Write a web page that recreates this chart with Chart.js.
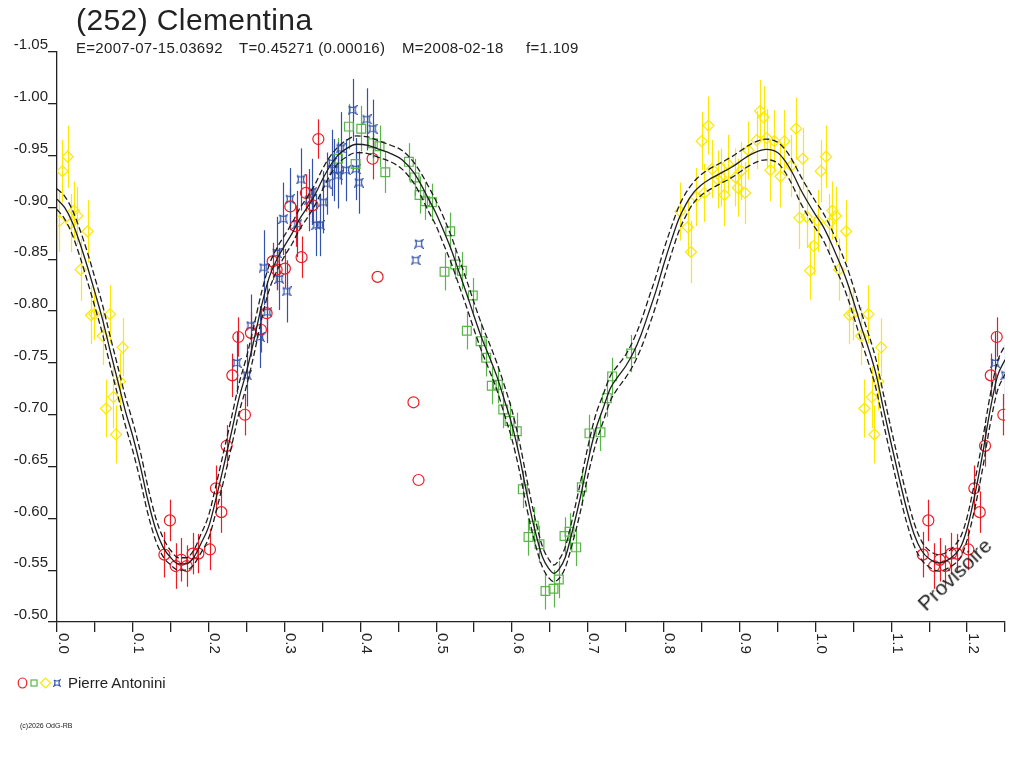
<!DOCTYPE html>
<html>
<head>
<meta charset="utf-8">
<title>(252) Clementina</title>
<script src="https://cdn.jsdelivr.net/npm/chart.js@4.4.1/dist/chart.umd.min.js"></script>
<style>
  body { margin: 0; background: #fff; }
  #wrap { position: relative; width: 1024px; height: 768px; overflow: hidden; }
  #c { position: absolute; left: 0; top: 0; }
  .t { position: absolute; font-family: "Liberation Sans", Arial, sans-serif; color: #222; white-space: pre; }
</style>
</head>
<body>
<div id="wrap">
  <canvas id="c" width="1024" height="768"></canvas>
  <div class="t" style="left:76px;top:5px;font-size:30px;line-height:30px;letter-spacing:0.4px">(252) Clementina</div>
  <div class="t" style="left:76px;top:40px;font-size:15px;line-height:15px;letter-spacing:0.3px">E=2007-07-15.03692</div>
  <div class="t" style="left:239px;top:40px;font-size:15px;line-height:15px;letter-spacing:0.3px">T=0.45271 (0.00016)</div>
  <div class="t" style="left:402px;top:40px;font-size:15px;line-height:15px;letter-spacing:0.3px">M=2008-02-18</div>
  <div class="t" style="left:526px;top:40px;font-size:15px;line-height:15px;letter-spacing:0.3px">f=1.109</div>
  <div class="t" style="left:68px;top:675px;font-size:15px;line-height:15px">Pierre Antonini</div>
  <div class="t" style="left:20px;top:722px;font-size:7px;line-height:7px">(c)2026 OdG-RB</div>
  <div class="t" style="left:926px;top:594px;font-size:21px;line-height:21px;transform-origin:0 18px;transform:rotate(-44deg)">Provisoire</div>
</div>
<script>
// curve fit (middle) and its two envelopes
const curvePhase = [0.000, 0.010, 0.020, 0.030, 0.040, 0.050, 0.060, 0.070, 0.080, 0.090,
  0.100, 0.110, 0.120, 0.130, 0.140, 0.150, 0.160, 0.170, 0.180, 0.190,
  0.200, 0.210, 0.220, 0.230, 0.240, 0.250, 0.260, 0.270, 0.280, 0.290,
  0.300, 0.310, 0.320, 0.330, 0.340, 0.350, 0.360, 0.370, 0.380, 0.395,
  0.410, 0.425, 0.440, 0.455, 0.470, 0.480, 0.490, 0.500, 0.510, 0.520,
  0.530, 0.540, 0.550, 0.560, 0.570, 0.580, 0.590, 0.600, 0.610, 0.620,
  0.630, 0.640, 0.648, 0.655, 0.662, 0.670, 0.680, 0.690, 0.700, 0.710,
  0.720, 0.730, 0.740, 0.750, 0.760, 0.770, 0.780, 0.790, 0.800, 0.810,
  0.820, 0.830, 0.840, 0.850, 0.860, 0.870, 0.880, 0.890, 0.900, 0.910,
  0.920, 0.935, 0.950, 0.960, 0.970, 0.980, 0.990, 1.000, 1.010, 1.020,
  1.030, 1.040, 1.050, 1.060, 1.070, 1.080, 1.090, 1.100, 1.110, 1.120,
  1.130, 1.140, 1.150, 1.163, 1.175, 1.185, 1.192, 1.200, 1.210, 1.220,
  1.230, 1.240, 1.250];
const curveMid = [-0.908, -0.900, -0.886, -0.866, -0.843, -0.818, -0.792, -0.762, -0.733, -0.704,
  -0.679, -0.650, -0.617, -0.590, -0.572, -0.562, -0.556, -0.556, -0.562, -0.576,
  -0.592, -0.620, -0.651, -0.683, -0.716, -0.742, -0.773, -0.806, -0.833, -0.850,
  -0.863, -0.875, -0.889, -0.900, -0.912, -0.927, -0.940, -0.950, -0.956, -0.961,
  -0.960, -0.956, -0.952, -0.946, -0.934, -0.922, -0.908, -0.894, -0.877, -0.859,
  -0.838, -0.817, -0.795, -0.774, -0.756, -0.737, -0.714, -0.690, -0.659, -0.622,
  -0.589, -0.563, -0.552, -0.547, -0.551, -0.562, -0.589, -0.620, -0.655, -0.685,
  -0.706, -0.726, -0.737, -0.747, -0.760, -0.777, -0.798, -0.820, -0.845, -0.868,
  -0.889, -0.904, -0.915, -0.922, -0.927, -0.931, -0.935, -0.939, -0.944, -0.949,
  -0.953, -0.956, -0.953, -0.945, -0.933, -0.918, -0.905, -0.893, -0.882, -0.867,
  -0.850, -0.832, -0.810, -0.786, -0.764, -0.739, -0.705, -0.672, -0.640, -0.610,
  -0.585, -0.569, -0.561, -0.557, -0.560, -0.566, -0.573, -0.590, -0.622, -0.660,
  -0.703, -0.737, -0.753];
const curveHigh = [-0.918, -0.911, -0.898, -0.879, -0.857, -0.832, -0.806, -0.776, -0.747, -0.718,
  -0.693, -0.664, -0.630, -0.601, -0.581, -0.569, -0.562, -0.562, -0.569, -0.585,
  -0.603, -0.633, -0.665, -0.697, -0.730, -0.756, -0.787, -0.819, -0.845, -0.861,
  -0.873, -0.885, -0.899, -0.910, -0.922, -0.937, -0.949, -0.958, -0.964, -0.969,
  -0.968, -0.964, -0.960, -0.955, -0.944, -0.933, -0.920, -0.906, -0.890, -0.872,
  -0.851, -0.830, -0.808, -0.787, -0.769, -0.750, -0.728, -0.704, -0.673, -0.636,
  -0.601, -0.573, -0.561, -0.555, -0.560, -0.572, -0.601, -0.634, -0.669, -0.699,
  -0.719, -0.738, -0.748, -0.758, -0.772, -0.790, -0.812, -0.834, -0.859, -0.881,
  -0.901, -0.915, -0.925, -0.932, -0.937, -0.941, -0.945, -0.949, -0.954, -0.959,
  -0.963, -0.966, -0.963, -0.956, -0.945, -0.931, -0.918, -0.906, -0.895, -0.881,
  -0.864, -0.846, -0.824, -0.800, -0.778, -0.753, -0.719, -0.686, -0.654, -0.623,
  -0.596, -0.578, -0.569, -0.565, -0.568, -0.575, -0.583, -0.601, -0.635, -0.674,
  -0.717, -0.751, -0.767];
const curveLow = [-0.898, -0.889, -0.874, -0.853, -0.829, -0.804, -0.778, -0.748, -0.719, -0.690,
  -0.665, -0.636, -0.604, -0.579, -0.563, -0.555, -0.550, -0.550, -0.555, -0.567,
  -0.581, -0.607, -0.637, -0.669, -0.702, -0.728, -0.759, -0.793, -0.821, -0.839,
  -0.853, -0.865, -0.879, -0.890, -0.902, -0.917, -0.931, -0.942, -0.948, -0.953,
  -0.952, -0.948, -0.944, -0.937, -0.924, -0.911, -0.896, -0.882, -0.864, -0.846,
  -0.825, -0.804, -0.782, -0.761, -0.743, -0.724, -0.700, -0.676, -0.645, -0.608,
  -0.577, -0.553, -0.543, -0.539, -0.542, -0.552, -0.577, -0.606, -0.641, -0.671,
  -0.693, -0.714, -0.726, -0.736, -0.748, -0.764, -0.784, -0.806, -0.831, -0.855,
  -0.877, -0.893, -0.905, -0.912, -0.917, -0.921, -0.925, -0.929, -0.934, -0.939,
  -0.943, -0.946, -0.943, -0.934, -0.921, -0.905, -0.892, -0.880, -0.869, -0.853,
  -0.836, -0.818, -0.796, -0.772, -0.750, -0.725, -0.691, -0.658, -0.626, -0.597,
  -0.574, -0.560, -0.553, -0.549, -0.552, -0.557, -0.563, -0.579, -0.609, -0.646,
  -0.689, -0.723, -0.739];

// observations: phase, magnitude, error (0 = no bar drawn)
const redPhase = [0.1416, 0.1489, 0.1565, 0.1640, 0.1710, 0.1789, 0.1864, 0.2017, 0.2096, 0.2167,
  0.2237, 0.2312, 0.2391, 0.2478, 0.2557, 0.2689, 0.2764, 0.2843, 0.2896, 0.3005,
  0.3076, 0.3146, 0.3225, 0.3282, 0.3370, 0.3446, 0.4161, 0.4227, 0.4700, 0.4767];
const redMag = [-0.565, -0.598, -0.554, -0.560, -0.554, -0.566, -0.566, -0.570, -0.629, -0.606,
  -0.670, -0.738, -0.775, -0.700, -0.779, -0.782, -0.798, -0.848, -0.840, -0.841,
  -0.901, -0.882, -0.852, -0.914, -0.902, -0.966, -0.947, -0.833, -0.712, -0.637];
const redErr = [0.022, 0.020, 0.022, 0.021, 0.020, 0.020, 0.019, 0.020, 0.022, 0.020,
  0.020, 0.021, 0.019, 0.020, 0.020, 0.022, 0.020, 0.018, 0.020, 0.019,
  0.018, 0.020, 0.020, 0.018, 0.018, 0.019, 0.020, 0, 0, 0];

const greenPhase = [0.3704, 0.3849, 0.3937, 0.4012, 0.4165, 0.4253, 0.4329, 0.4640, 0.4715, 0.4780,
  0.4856, 0.4943, 0.5110, 0.5185, 0.5251, 0.5338, 0.5404, 0.5483, 0.5585, 0.5660,
  0.5733, 0.5813, 0.5884, 0.5967, 0.6063, 0.6142, 0.6217, 0.6287, 0.6362, 0.6441,
  0.6547, 0.6617, 0.6692, 0.6758, 0.6846, 0.6920, 0.7021, 0.7166, 0.7250, 0.7320,
  0.7570];
const greenMag = [-0.947, -0.978, -0.942, -0.976, -0.962, -0.959, -0.934, -0.944, -0.929, -0.912,
  -0.906, -0.905, -0.838, -0.877, -0.845, -0.839, -0.781, -0.815, -0.771, -0.755,
  -0.728, -0.729, -0.705, -0.694, -0.684, -0.628, -0.582, -0.593, -0.575, -0.530,
  -0.532, -0.541, -0.583, -0.587, -0.572, -0.630, -0.682, -0.683, -0.716, -0.737,
  -0.759];
const greenErr = [0.020, 0.022, 0.022, 0.022, 0.020, 0.020, 0.020, 0.018, 0.018, 0.018,
  0.018, 0.018, 0.018, 0.018, 0.014, 0.018, 0.018, 0.017, 0.018, 0.018,
  0.018, 0.018, 0.018, 0.018, 0.018, 0.018, 0.018, 0.018, 0.018, 0.018,
  0.018, 0.018, 0.018, 0.018, 0.018, 0.018, 0.018, 0.018, 0.018, 0.018,
  0.018];

const yellowPhase = [0.0032, 0.0071, 0.0141, 0.0185, 0.0224, 0.0269, 0.0312, 0.0405, 0.0448, 0.0493,
  0.0602, 0.0646, 0.0699, 0.0743, 0.0778, 0.0830, 0.0866,
  0.8220, 0.8317, 0.8360, 0.8428, 0.8500, 0.8537, 0.8590, 0.8638, 0.8712, 0.8757,
  0.8800, 0.8844, 0.8946, 0.8976, 0.9020, 0.9073, 0.9117, 0.9226, 0.9271, 0.9319,
  0.9358, 0.9407, 0.9460, 0.9539, 0.9591, 0.9680, 0.9746, 0.9790, 0.9833, 0.9885,
  0.9930, 0.9978];
const yellowMag = [-0.887, -0.935, -0.949, -0.885, -0.897, -0.892, -0.840, -0.877, -0.796, -0.797,
  -0.776, -0.706, -0.797, -0.717, -0.681, -0.732, -0.765,
  -0.896, -0.881, -0.857, -0.910, -0.964, -0.914, -0.979, -0.937, -0.927, -0.929,
  -0.912, -0.942, -0.929, -0.919, -0.935, -0.914, -0.955, -0.965, -0.993, -0.987,
  -0.967, -0.936, -0.964, -0.930, -0.964, -0.940, -0.976, -0.890, -0.947, -0.891,
  -0.839, -0.863];
const yellowErr = [0.030, 0.030, 0.030, 0.028, 0.028, 0.028, 0.030, 0.030, 0.028, 0.025,
  0.028, 0.028, 0.028, 0.030, 0.028, 0.028, 0.028,
  0.028, 0.028, 0.030, 0.028, 0.028, 0.028, 0.028, 0.028, 0.028, 0.028,
  0.030, 0.028, 0.028, 0.028, 0.028, 0.030, 0.028, 0.028, 0.030, 0.030,
  0.028, 0.030, 0.030, 0.030, 0.030, 0.030, 0.030, 0.030, 0.030, 0.030,
  0.028, 0.028];

const bluePhase = [0.2369, 0.2504, 0.2553, 0.2676, 0.2724, 0.2773, 0.2896, 0.2931, 0.2984, 0.3028,
  0.3070, 0.3169, 0.3216, 0.3320, 0.3366, 0.3420, 0.3467, 0.3510, 0.3555, 0.3625,
  0.3650, 0.3700, 0.3739, 0.3810, 0.3897, 0.3940, 0.3980, 0.4082, 0.4161, 0.4728,
  0.4771];
const blueMag = [-0.750, -0.738, -0.786, -0.775, -0.842, -0.799, -0.856, -0.831, -0.889, -0.819,
  -0.908, -0.884, -0.927, -0.907, -0.915, -0.883, -0.883, -0.905, -0.923, -0.943,
  -0.936, -0.931, -0.957, -0.936, -0.994, -0.937, -0.924, -0.985, -0.976, -0.849,
  -0.865];
const blueErr = [0.030, 0.030, 0.030, 0.030, 0.036, 0.030, 0.035, 0.030, 0.035, 0.030,
  0.030, 0.032, 0.030, 0.030, 0.032, 0.030, 0.030, 0.030, 0.030, 0.032,
  0.030, 0.032, 0.035, 0.030, 0.030, 0.030, 0.030, 0.030, 0.028, 0,
  0];

const xTickValues = [0, 0.1, 0.2, 0.3, 0.4, 0.5, 0.6, 0.7, 0.8, 0.9, 1.0, 1.1, 1.2];
const xTickLabels = ['0.0', '0.1', '0.2', '0.3', '0.4', '0.5', '0.6', '0.7', '0.8', '0.9', '1.0', '1.1', '1.2'];

const RED = '#ec1c24', GREEN = '#58b548', YELLOW = '#fbe806', BLUE = '#3352a8', INK = '#1e1e1e';

// phases below 0.25 are shown again one cycle later, like the original plot
function obs(phase, mag, err) {
  const pts = [], errs = [];
  phase.forEach((p, i) => { pts.push({x: p, y: mag[i]}); errs.push(err[i]); });
  phase.forEach((p, i) => {
    if (p + 1 <= 1.251) { pts.push({x: p + 1, y: mag[i]}); errs.push(err[i]); }
  });
  return {pts, errs};
}
function line(ys) {
  return curvePhase.map((p, i) => ({x: p, y: ys[i]}));
}

function starImage(color, size) {
  const c = document.createElement('canvas');
  c.width = size; c.height = size;
  const g = c.getContext('2d');
  const a = 1, b = size - 1, m = size / 2;
  g.strokeStyle = color;
  g.lineWidth = 1.2;
  g.beginPath();
  g.moveTo(a, a);
  g.quadraticCurveTo(m, m - 1, b, a);
  g.quadraticCurveTo(m + 1, m, b, b);
  g.quadraticCurveTo(m, m + 1, a, b);
  g.quadraticCurveTo(m - 1, m, a, a);
  g.stroke();
  return c;
}
const blueStar = starImage(BLUE, 10);

const red = obs(redPhase, redMag, redErr);
const green = obs(greenPhase, greenMag, greenErr);
const yellow = obs(yellowPhase, yellowMag, yellowErr);
const blue = obs(bluePhase, blueMag, blueErr);

// vertical error bars, drawn under the markers
const errorBars = {
  id: 'errorBars',
  beforeDatasetsDraw(chart) {
    const {ctx, chartArea, scales: {x, y}} = chart;
    ctx.save();
    ctx.beginPath();
    ctx.rect(chartArea.left, chartArea.top, chartArea.width, chartArea.height);
    ctx.clip();
    chart.data.datasets.forEach(ds => {
      if (!ds.errors) return;
      ctx.strokeStyle = ds.barColor;
      ctx.lineWidth = 1.2;
      ds.data.forEach((p, i) => {
        const e = ds.errors[i];
        if (!e) return;
        const px = Math.round(x.getPixelForValue(p.x)) + 0.5;
        ctx.beginPath();
        ctx.moveTo(px, y.getPixelForValue(p.y - e));
        ctx.lineTo(px, y.getPixelForValue(p.y + e));
        ctx.stroke();
      });
    });
    ctx.restore();
  }
};

// x labels read top to bottom, and the legend symbols
const extras = {
  id: 'extras',
  afterDraw(chart) {
    const ctx = chart.ctx, xs = chart.scales.x;
    const y0 = chart.chartArea.bottom + 11;
    ctx.save();
    ctx.font = '15px "Liberation Sans", Arial, sans-serif';
    ctx.fillStyle = '#222';
    ctx.textAlign = 'left';
    ctx.textBaseline = 'alphabetic';
    xTickValues.forEach((v, i) => {
      ctx.save();
      ctx.translate(xs.getPixelForValue(v) + 1.5, y0);
      ctx.rotate(Math.PI / 2);
      ctx.fillText(xTickLabels[i], 0, 0);
      ctx.restore();
    });

    const ly = 683;
    ctx.lineWidth = 1.2;
    ctx.strokeStyle = RED;
    ctx.beginPath(); ctx.ellipse(22.5, ly, 4.3, 5, 0, 0, Math.PI * 2); ctx.stroke();
    ctx.strokeStyle = GREEN;
    ctx.strokeRect(31, ly - 3, 6, 6);
    ctx.strokeStyle = YELLOW;
    ctx.beginPath();
    ctx.moveTo(40.5, ly); ctx.lineTo(45.5, ly - 5); ctx.lineTo(50.5, ly); ctx.lineTo(45.5, ly + 5);
    ctx.closePath(); ctx.stroke();
    ctx.drawImage(starImage(BLUE, 8), 53, ly - 4);
    ctx.restore();
  }
};

const scatterSet = (label, d, color, style, radius) => ({
  label, data: d.pts, errors: d.errs, barColor: color,
  pointStyle: style, pointRadius: radius, pointHoverRadius: radius,
  borderColor: color, pointBorderColor: color, backgroundColor: 'rgba(0,0,0,0)',
  pointBackgroundColor: 'rgba(0,0,0,0)', pointBorderWidth: 1.2, showLine: false
});
const curveSet = (label, ys, dash) => ({
  label, data: line(ys), showLine: true, borderColor: INK, borderWidth: 1.3,
  borderDash: dash, pointRadius: 0, cubicInterpolationMode: 'monotone', fill: false
});

new Chart(document.getElementById('c'), {
  type: 'scatter',
  data: {
    datasets: [
      curveSet('fit', curveMid, []),
      curveSet('fit high', curveHigh, [6, 3]),
      curveSet('fit low', curveLow, [6, 3]),
      scatterSet('red', red, RED, 'circle', 5.5),
      scatterSet('green', green, GREEN, 'rect', 6.2),
      scatterSet('yellow', yellow, YELLOW, 'rectRot', 5.5),
      scatterSet('blue', blue, BLUE, blueStar, 5)
    ]
  },
  options: {
    responsive: false,
    animation: false,
    devicePixelRatio: 1,
    layout: {padding: {left: 0, top: 52, right: 19, bottom: 0}},
    plugins: {legend: {display: false}, tooltip: {enabled: false}, title: {display: false}},
    scales: {
      x: {
        type: 'linear', min: 0, max: 1.25,
        afterFit: s => { s.height = 146; },
        border: {display: true, color: '#222', width: 1.3},
        grid: {display: true, drawOnChartArea: false, drawTicks: true, tickLength: 10, color: '#222', tickColor: '#222', lineWidth: 1.3},
        ticks: {stepSize: 0.05, autoSkip: false, maxRotation: 0, callback: () => ''}
      },
      y: {
        type: 'linear', min: -1.05, max: -0.50, reverse: true,
        afterFit: s => { s.width = 57; },
        border: {display: true, color: '#222', width: 1.3},
        grid: {display: true, drawOnChartArea: false, drawTicks: true, tickLength: 9, color: '#222', tickColor: '#222', lineWidth: 1.3},
        ticks: {
          stepSize: 0.05, autoSkip: false, padding: 0, labelOffset: -7, color: '#222',
          font: {family: '"Liberation Sans", Arial, sans-serif', size: 15},
          callback: v => v.toFixed(2)
        }
      }
    }
  },
  plugins: [errorBars, extras]
});
</script>
</body>
</html>
